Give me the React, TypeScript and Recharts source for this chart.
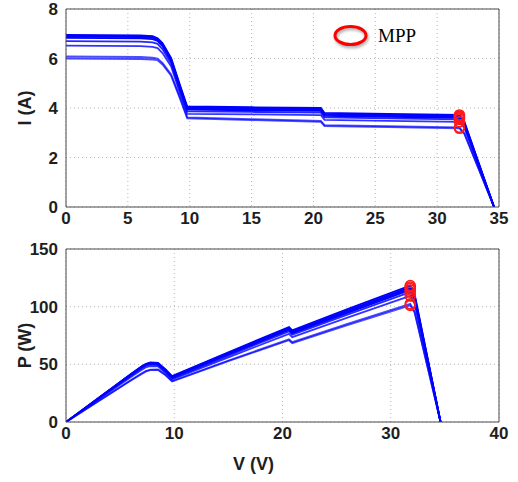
import { ComposedChart, Line, Scatter, XAxis, YAxis, CartesianGrid } from 'recharts'

// PV module sweeps under partial shading: I-V on top, P-V below
const voltage = [0, 3, 6, 7, 7.4, 7.8, 8.5, 9.2, 9.8, 15, 20.6, 20.9, 26, 31.8, 32.2, 34.6]

const current1 = [6.95, 6.94, 6.93, 6.9, 6.82, 6.62, 6.02, 4.95, 4.06, 4.03, 4.0, 3.8, 3.76, 3.72, 3.45, 0]
const current2 = [6.92, 6.91, 6.9, 6.87, 6.79, 6.58, 5.98, 4.9, 4.02, 3.99, 3.96, 3.76, 3.72, 3.68, 3.41, 0]
const current3 = [6.88, 6.87, 6.86, 6.83, 6.75, 6.55, 5.94, 4.86, 3.98, 3.95, 3.92, 3.72, 3.68, 3.64, 3.37, 0]
const current4 = [6.83, 6.82, 6.81, 6.78, 6.71, 6.5, 5.9, 4.82, 3.94, 3.91, 3.88, 3.68, 3.64, 3.6, 3.33, 0]
const current5 = [6.7, 6.69, 6.68, 6.65, 6.59, 6.38, 5.8, 4.72, 3.86, 3.84, 3.81, 3.62, 3.58, 3.54, 3.28, 0]
const current6 = [6.52, 6.51, 6.5, 6.47, 6.42, 6.22, 5.68, 4.62, 3.76, 3.74, 3.71, 3.52, 3.48, 3.44, 3.19, 0]
const current7 = [6.08, 6.07, 6.06, 6.03, 6.0, 5.82, 5.36, 4.45, 3.62, 3.55, 3.48, 3.31, 3.27, 3.22, 2.98, 0]
const current8 = [6.0, 5.99, 5.98, 5.96, 5.93, 5.76, 5.3, 4.4, 3.58, 3.51, 3.44, 3.27, 3.23, 3.18, 2.95, 0]

const power1 = [0, 20.8, 41.6, 48.3, 50.5, 51.6, 51.2, 45.5, 39.8, 60.5, 82.4, 79.4, 97.8, 118.3, 111.1, 0]
const power2 = [0, 20.7, 41.4, 48.1, 50.2, 51.3, 50.8, 45.1, 39.4, 59.9, 81.6, 78.6, 96.7, 117.0, 109.8, 0]
const power3 = [0, 20.6, 41.2, 47.8, 50.0, 51.1, 50.5, 44.7, 39.0, 59.3, 80.8, 77.7, 95.7, 115.8, 108.5, 0]
const power4 = [0, 20.5, 40.9, 47.5, 49.7, 50.7, 50.2, 44.3, 38.6, 58.7, 79.9, 76.9, 94.6, 114.5, 107.2, 0]
const power5 = [0, 20.1, 40.1, 46.6, 48.8, 49.8, 49.3, 43.4, 37.8, 57.6, 78.5, 75.7, 93.1, 112.6, 105.6, 0]
const power6 = [0, 19.5, 39.0, 45.3, 47.5, 48.5, 48.3, 42.5, 36.9, 56.1, 76.4, 73.6, 90.5, 109.4, 102.7, 0]
const power7 = [0, 18.2, 36.4, 42.2, 44.4, 45.4, 45.6, 40.9, 35.5, 53.3, 71.7, 69.2, 85.0, 102.4, 96.0, 0]
const power8 = [0, 18.0, 35.9, 41.7, 43.9, 44.9, 45.1, 40.5, 35.1, 52.7, 70.9, 68.3, 84.0, 101.1, 95.0, 0]

const mppVoltage = [31.8, 31.8, 31.8, 31.8, 31.8, 31.8, 31.8, 31.8]
const mppCurrent = [3.72, 3.68, 3.64, 3.6, 3.54, 3.44, 3.22, 3.18]
const mppPower = [118.3, 117.0, 115.8, 114.5, 112.6, 109.4, 102.4, 101.1]

const ivTicksX = [0, 5, 10, 15, 20, 25, 30, 35]
const ivTicksY = [0, 2, 4, 6, 8]
const pvTicksX = [0, 10, 20, 30, 40]
const pvTicksY = [0, 50, 100, 150]

const currentCurves = [current1, current2, current3, current4, current5, current6, current7, current8]
const powerCurves = [power1, power2, power3, power4, power5, power6, power7, power8]
const curveOpacity = [1, 1, 1, 1, 0.85, 0.8, 0.7, 0.7]

const toRows = (curves: number[][]) =>
  voltage.map((v, k) => {
    const row: Record<string, number> = { v }
    curves.forEach((c, n) => {
      row[`s${n}`] = c[k]
    })
    return row
  })

const toMpp = (values: number[]) => values.map((y, n) => ({ v: mppVoltage[n], y }))

const frame = '#4a4a4a'
const tickFont = {
  fontFamily: '"Liberation Sans", Arial, sans-serif',
  fontSize: 17,
  fontWeight: 700,
  fill: '#1e1e1e',
}

const MppMarker = (props: any) => (
  <circle cx={props.cx} cy={props.cy} r={5} fill="none" stroke="#ff1a1a" strokeWidth={1.6} />
)

interface PanelProps {
  height: number
  bottom: number
  xHeight: number
  curves: number[][]
  mpp: number[]
  xMax: number
  xTicks: number[]
  yMax: number
  yTicks: number[]
  yTitle: string
  yTitleShift: number
  xTitle?: string
}

function Panel(p: PanelProps) {
  const rows = toRows(p.curves)
  const yTitle = ({ viewBox }: any) => (
    <text
      transform={`translate(25, ${viewBox.y + viewBox.height / 2 + p.yTitleShift}) rotate(-90)`}
      textAnchor="middle"
      dominantBaseline="central"
      style={{ ...tickFont, fontSize: 18 }}
    >
      {p.yTitle}
    </text>
  )
  const xTitle = ({ viewBox }: any) => (
    <text
      x={viewBox.x + viewBox.width / 2 - 29}
      y={viewBox.y + viewBox.height - 2}
      textAnchor="middle"
      style={{ ...tickFont, fontSize: 18 }}
    >
      {p.xTitle}
    </text>
  )
  return (
    <ComposedChart
      width={518}
      height={p.height}
      data={rows}
      margin={{ top: 9, right: 19, bottom: p.bottom, left: 26 }}
    >
      <CartesianGrid strokeDasharray="1 3" stroke="#b8b8b8" />
      <XAxis
        dataKey="v"
        type="number"
        domain={[0, p.xMax]}
        ticks={p.xTicks}
        interval={0}
        allowDataOverflow
        height={p.xHeight}
        tickLine={false}
        tickSize={2}
        tickMargin={3}
        axisLine={{ stroke: frame }}
        tick={tickFont}
        label={p.xTitle ? { content: xTitle } : undefined}
      />
      <XAxis
        xAxisId="inner"
        type="number"
        domain={[0, p.xMax]}
        ticks={p.xTicks}
        interval={0}
        allowDataOverflow
        mirror
        tick={false}
        tickSize={5}
        axisLine={false}
        tickLine={{ stroke: frame }}
      />
      <XAxis
        xAxisId="top"
        orientation="top"
        type="number"
        domain={[0, p.xMax]}
        ticks={p.xTicks}
        interval={0}
        allowDataOverflow
        mirror
        tick={false}
        tickSize={5}
        axisLine={{ stroke: frame }}
        tickLine={{ stroke: frame }}
      />
      <YAxis
        type="number"
        domain={[0, p.yMax]}
        ticks={p.yTicks}
        interval={0}
        allowDataOverflow
        width={40}
        tickLine={false}
        tickSize={4}
        tickMargin={4}
        axisLine={{ stroke: frame }}
        tick={tickFont}
        label={{ content: yTitle }}
      />
      <YAxis
        yAxisId="inner"
        type="number"
        domain={[0, p.yMax]}
        ticks={p.yTicks}
        interval={0}
        allowDataOverflow
        mirror
        tick={false}
        tickSize={5}
        axisLine={false}
        tickLine={{ stroke: frame }}
      />
      <YAxis
        yAxisId="right"
        orientation="right"
        type="number"
        domain={[0, p.yMax]}
        ticks={p.yTicks}
        interval={0}
        allowDataOverflow
        mirror
        tick={false}
        tickSize={5}
        axisLine={{ stroke: frame }}
        tickLine={{ stroke: frame }}
      />
      {p.curves.map((_, n) => (
        <Line
          key={n}
          dataKey={`s${n}`}
          type="linear"
          stroke="#0000ff"
          strokeOpacity={curveOpacity[n]}
          strokeWidth={1.8}
          dot={false}
          activeDot={false}
          isAnimationActive={false}
        />
      ))}
      <Scatter data={toMpp(p.mpp)} dataKey="y" shape={MppMarker} isAnimationActive={false} />
    </ComposedChart>
  )
}

export default function App() {
  return (
    <div style={{ position: 'absolute', left: 0, top: 0, width: 518, height: 482, background: '#fff' }}>
      <Panel
        height={240}
        bottom={8}
        xHeight={25}
        curves={currentCurves}
        mpp={mppCurrent}
        xMax={35}
        xTicks={ivTicksX}
        yMax={8}
        yTicks={ivTicksY}
        yTitle="I (A)"
        yTitleShift={0}
      />
      <Panel
        height={242}
        bottom={10}
        xHeight={50}
        curves={powerCurves}
        mpp={mppPower}
        xMax={40}
        xTicks={pvTicksX}
        yMax={150}
        yTicks={pvTicksY}
        yTitle="P (W)"
        yTitleShift={10}
        xTitle="V (V)"
      />
      <svg width={120} height={30} style={{ position: 'absolute', left: 330, top: 21 }}>
        <ellipse
          cx={20.5}
          cy={14.5}
          rx={15.5}
          ry={9}
          fill="none"
          stroke="#ff0000"
          strokeWidth={3}
          style={{ filter: 'drop-shadow(1px 2px 1.5px rgba(0,0,0,0.35))' }}
        />
        <text
          x={48}
          y={21}
          style={{ fontFamily: '"Liberation Serif", "Times New Roman", serif', fontSize: 19, fill: '#000' }}
        >
          MPP
        </text>
      </svg>
    </div>
  )
}
